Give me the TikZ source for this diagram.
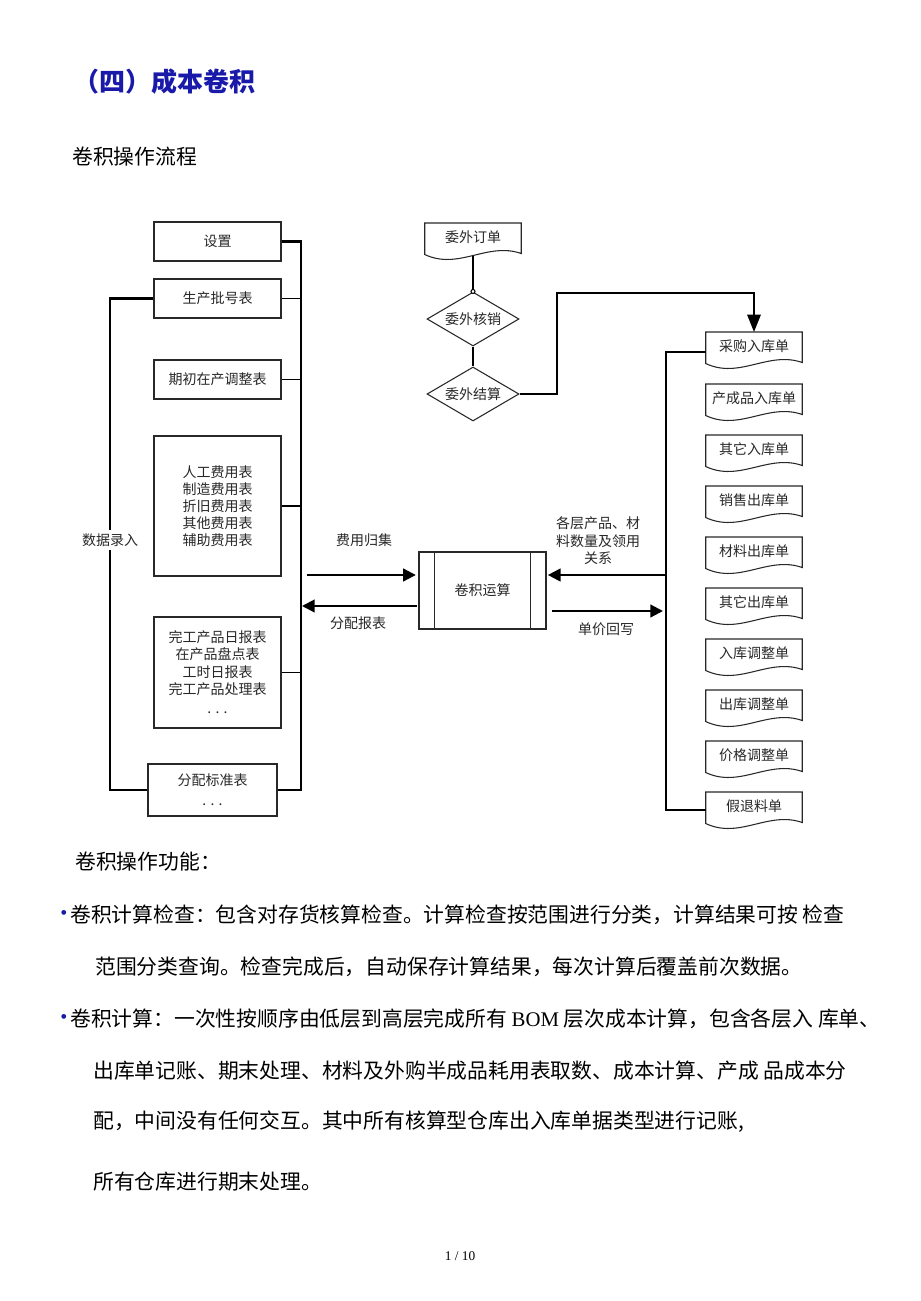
\documentclass[tikz,border=0pt]{standalone}
\usepackage{fontspec}
\setmainfont{Noto Sans CJK SC}
\newfontfamily\serif{Liberation Serif}
\usetikzlibrary{arrows.meta,shapes.geometric,calc}
\definecolor{titleblue}{RGB}{25,25,170}
\definecolor{ink}{RGB}{40,40,40}
\def\pxu{0.75pt}
\newcommand\dfont{\fontsize{10.5pt}{12.8pt}\selectfont}
\newcommand\bfont{\fontsize{15.6pt}{18pt}\selectfont}
\newcommand\docout[1]{\draw[draw=ink,line width=0.8pt] (#1.north west) -- (#1.north east) -- ($(#1.south east)+(0,2)$) .. controls ($(#1.south east)+(-34,-10)$) and ($(#1.south west)+(34,19)$) .. ($(#1.south west)+(0,3)$) -- cycle;}
\begin{document}
\begin{tikzpicture}[x=0.75pt,y=-0.75pt,
  box/.style={draw=ink, line width=0.8pt, minimum width=127*\pxu, inner sep=0, align=center, font=\dfont, text=ink},
  doc/.style={minimum width=96*\pxu, minimum height=28*\pxu, inner sep=0, anchor=north, font=\dfont, text=ink},
  dia/.style={diamond, draw=ink, line width=0.8pt, aspect=1.7, minimum width=92*\pxu, minimum height=54*\pxu, inner sep=0, font=\dfont, text=ink},
  bus/.style={line width=1.6pt},
  thinl/.style={line width=0.8pt},
  arr/.style={line width=1.6pt, -{Triangle[length=9.5pt,width=9.5pt]}},
  lbl/.style={font=\dfont, text=ink, align=center, inner sep=0},
  body/.style={font=\bfont, anchor=west, inner sep=0, text=black},
  bullet/.style={inner sep=0, font=\serif\fontsize{15pt}{16pt}\selectfont, text=titleblue}]
\fill[white] (0,0) rectangle (920,1301);
\useasboundingbox (0,0) rectangle (920,1301);

% title
\node[anchor=west, inner sep=0, text=titleblue, font=\fontsize{19.5pt}{22pt}\selectfont\bfseries] (title) at (73,82) {（四）成本卷积};
\node[body] (sub) at (72,157) {卷积操作流程};

% left boxes
\node[box, minimum height=39*\pxu] (set) at (217.5,241.5) {设置};
\node[box, minimum height=39*\pxu] (batch) at (217.5,298.5) {生产批号表};
\node[box, minimum height=39*\pxu] (init) at (217.5,379.5) {期初在产调整表};
\node[box, minimum height=140*\pxu] (fee) at (217.5,506) {人工费用表\\制造费用表\\折旧费用表\\其他费用表\\辅助费用表};
\node[box, minimum height=111*\pxu] (done) at (217.5,672.5) {完工产品日报表\\在产品盘点表\\工时日报表\\完工产品处理表\\[2pt]. . .};
\node[box, minimum width=129*\pxu, minimum height=52*\pxu] (alloc) at (212.5,790) {分配标准表\\[2pt]. . .};

\coordinate (lrb) at (301,500);
\coordinate (llb) at (110,500);
\draw[bus] (set.east) -| (lrb) |- (alloc.east);
\draw[thinl] (batch.east) -- (batch.east -| lrb);
\draw[thinl] (init.east) -- (init.east -| lrb);
\draw[thinl] (fee.east) -- (fee.east -| lrb);
\draw[thinl] (done.east) -- (done.east -| lrb);
\draw[bus] (batch.west) -| (llb) |- (alloc.west);
\node[lbl, fill=white, inner ysep=3pt, inner xsep=1pt] (sjlr) at (110,540) {数据录入};

% central box
\node[box, minimum height=77*\pxu] (jj) at (482.5,590.5) {卷积运算};
\draw[draw=ink, line width=0.8pt] ($(jj.north west)+(16,0)$) -- ($(jj.south west)+(16,0)$);
\draw[draw=ink, line width=0.8pt] ($(jj.north east)+(-16,0)$) -- ($(jj.south east)+(-16,0)$);

\coordinate (a1s) at (307,575);
\coordinate (a2e) at (302,606);
\coordinate (a3s) at (666,575);
\coordinate (a4e) at (663,611);
\draw[arr, shorten >=2pt] (a1s) -- ($(jj.west)+(0,-15.5)$);
\draw[arr, shorten <=1pt] ($(jj.west)+(0,15.5)$) -- (a2e);
\draw[arr, shorten >=1pt] (a3s) -- ($(jj.east)+(0,-15.5)$);
\draw[arr, shorten <=4pt] ($(jj.east)+(0,20.5)$) -- (a4e);
\node[lbl] (l1) at (364,540) {费用归集};
\node[lbl] (l2) at (358,623) {分配报表};
\node[lbl, font=\fontsize{10.5pt}{13.2pt}\selectfont] (l3) at (598,541) {各层产品、材\\料数量及领用\\关系};
\node[lbl] (l4) at (606,629) {单价回写};

% right documents
\foreach \n/\t/\y in {d1/采购入库单/332, d2/产成品入库单/384, d3/其它入库单/435, d4/销售出库单/486, d5/材料出库单/537, d6/其它出库单/588, d7/入库调整单/639, d8/出库调整单/690, d9/价格调整单/741, d10/假退料单/792}{
  \node[doc] (\n) at (754,\y) {\t};
  \docout{\n}
}
\coordinate (rbx) at (666,580);
\draw[bus] ($(d1.west)+(0,6)$) -| (rbx) |- ($(d10.west)+(0,4)$);

% top middle
\node[doc] (wd) at (473,223) {委外订单};
\docout{wd}
\node[dia] (hx) at (473,319) {委外核销};
\node[dia] (js) at (473,394) {委外结算};
\draw[thinl] ($(wd.south)+(0,4)$) -- (hx.north);
\draw[thinl, fill=white] (hx.north) circle (1.5pt);
\draw[bus] (hx.south) -- (js.north);
\coordinate (wj) at (557,293);
\draw[bus, -{Triangle[length=13pt,width=10pt]}] (js.east) -| (wj) -| (d1.north);

% body text
\node[body] (h2) at (75,862) {卷积操作功能：};
\node[bullet] (b1) at (64,915) {•};
\node[body] (t1) at (70,915) {卷积计算检查：包含对存货核算检查。计算检查按范围进行分类，计算结果可按 检查};
\node[body] (t2) at (95,967) {范围分类查询。检查完成后，自动保存计算结果，每次计算后覆盖前次数据。};
\node[bullet] (b2) at (64,1019) {•};
\node[body] (t3) at (70,1019) {卷积计算：一次性按顺序由低层到高层完成所有 {\serif BOM} 层次成本计算，包含各层入 库单、};
\node[body] (t4) at (93,1071) {出库单记账、期末处理、材料及外购半成品耗用表取数、成本计算、产成 品成本分};
\node[body] (t5) at (93,1122) {配，中间没有任何交互。其中所有核算型仓库出入库单据类型进行记账,};
\node[body] (t6) at (93,1182) {所有仓库进行期末处理。};
\node[inner sep=0, font=\serif\fontsize{10pt}{12pt}\selectfont] (pg) at (460,1256) {1 / 10};
\end{tikzpicture}
\end{document}
